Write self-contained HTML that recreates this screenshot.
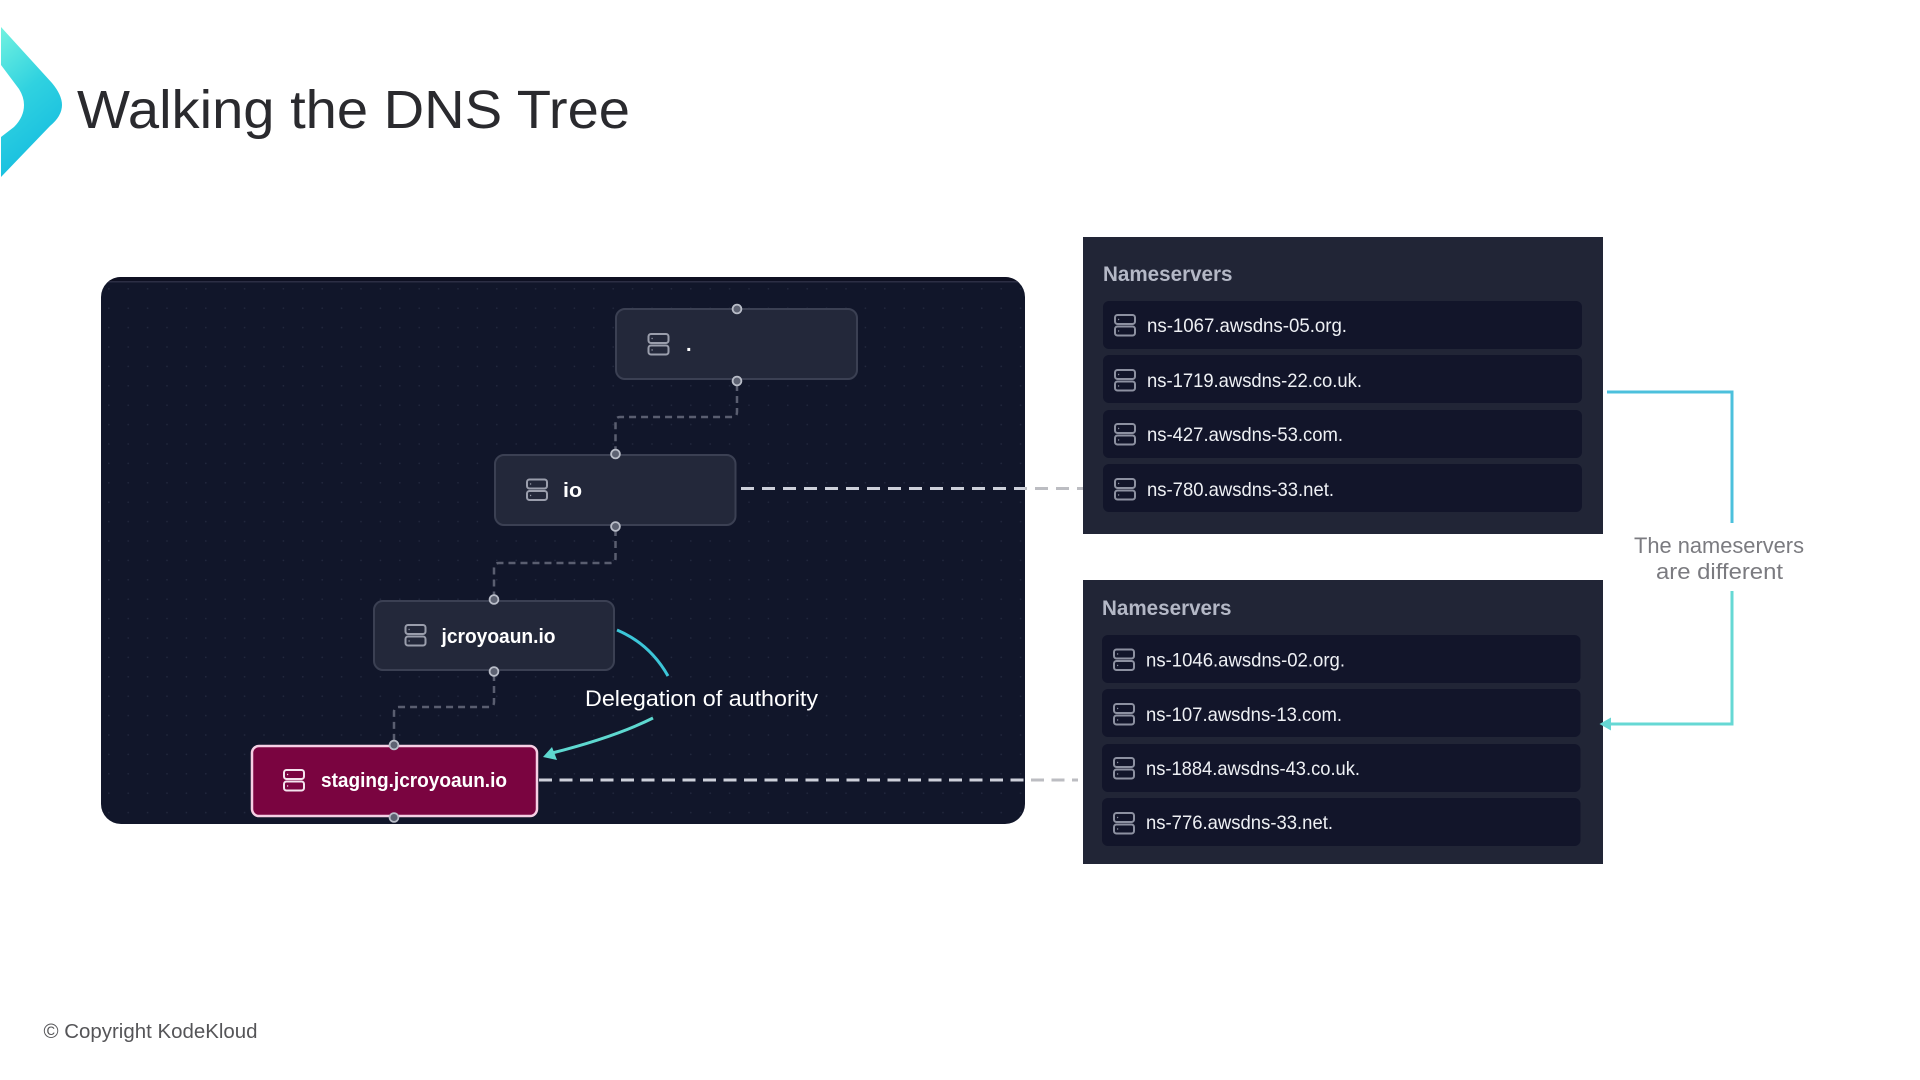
<!DOCTYPE html>
<html lang="en">
<head>
<meta charset="utf-8">
<title>Walking the DNS Tree</title>
<style>
html,body{margin:0;padding:0;background:#fff;width:1920px;height:1080px;overflow:hidden}
svg{display:block}
text{font-family:"Liberation Sans",sans-serif}
.ns{font-size:19.5px;fill:#eef0f4}
.hdr{font-size:21px;font-weight:700;fill:#b4b8c6}
.nl{font-size:20px;font-weight:700;fill:#fff}
.gr{font-size:22px;fill:#7b7b80}
</style>
</head>
<body>
<svg width="1920" height="1080" viewBox="0 0 1920 1080" xmlns="http://www.w3.org/2000/svg">
<defs>
<linearGradient id="chev" x1="0" y1="0" x2="0.35" y2="1">
<stop offset="0" stop-color="#72f2e0"/><stop offset="0.5" stop-color="#30d2e0"/><stop offset="1" stop-color="#16bde0"/>
</linearGradient>
<pattern id="dots" x="108" y="288" width="19.4" height="19.4" patternUnits="userSpaceOnUse">
<circle cx="0.8" cy="0.8" r="0.8" fill="#242a40"/>
</pattern>
<clipPath id="panelclip"><rect x="101" y="277" width="924" height="547" rx="20"/></clipPath>
<g id="ic" fill="none" stroke="currentColor" stroke-width="2">
<rect x="1" y="1" width="20" height="9" rx="2.5"/>
<rect x="1" y="12.5" width="20" height="9" rx="2.5"/>
<circle cx="4.6" cy="5.5" r="0.7" fill="currentColor" stroke="none"/>
<circle cx="4.6" cy="17" r="0.7" fill="currentColor" stroke="none"/>
</g>
</defs>

<!-- chevron -->
<path d="M1 27 L52 83 Q62 95 62 105 Q62 116 50 126 L1 177 L1 137 L14 127 Q24 117 24 105 Q24 97 19 89 L1 65 Z" fill="url(#chev)"/>

<!-- title -->
<text x="77" y="128" font-size="54" fill="#2a2a2e" textLength="553" lengthAdjust="spacingAndGlyphs">Walking the DNS Tree</text>

<!-- main panel -->
<rect x="101" y="277" width="924" height="547" rx="20" fill="#11162a"/>
<g clip-path="url(#panelclip)">
<rect x="101" y="277" width="924" height="4" fill="#0e1022"/>
<rect x="101" y="281" width="924" height="1.5" fill="#2c2e44"/>
<rect x="101" y="283" width="924" height="541" fill="url(#dots)"/>
</g>

<!-- dashed tree connectors -->
<g fill="none" stroke="#5a5e70" stroke-width="2.5" stroke-dasharray="7 5">
<path d="M737 384 V412 Q737 417 732 417 H620 Q615.5 417 615.5 422 V454"/>
<path d="M615.5 529 V558 Q615.5 563 610 563 H499 Q494 563 494 568 V599"/>
<path d="M494 674 V702 Q494 707 489 707 H399 Q394 707 394 712 V745"/>
</g>

<!-- nodes -->
<g fill="#23283a" stroke="#3b4053" stroke-width="2">
<rect x="616" y="309" width="241" height="70" rx="9"/>
<rect x="495" y="455" width="240.5" height="70" rx="9"/>
<rect x="374" y="601" width="240" height="69" rx="9"/>
</g>
<rect x="252" y="746" width="285" height="70" rx="7" fill="#7a0440" stroke="#f6cfe4" stroke-width="2.5"/>

<!-- node icons -->
<use href="#ic" x="647.5" y="333" color="#9a9eac"/>
<use href="#ic" x="526" y="478.5" color="#9a9eac"/>
<use href="#ic" x="404.5" y="624" color="#9a9eac"/>
<use href="#ic" x="283" y="769" color="#f4e4ee"/>

<!-- node labels -->
<text x="686" y="351" class="nl">.</text>
<text x="563" y="497" class="nl" textLength="19" lengthAdjust="spacingAndGlyphs">io</text>
<text x="441.5" y="643" class="nl" textLength="114" lengthAdjust="spacingAndGlyphs">jcroyoaun.io</text>
<text x="321" y="787" class="nl" textLength="186" lengthAdjust="spacingAndGlyphs">staging.jcroyoaun.io</text>

<!-- handles -->
<g fill="#5d6272" stroke="#b9bdc8" stroke-width="1.8">
<circle cx="737" cy="309" r="4.4"/>
<circle cx="737" cy="381" r="4.4"/>
<circle cx="615.5" cy="454" r="4.4"/>
<circle cx="615.5" cy="526.5" r="4.4"/>
<circle cx="494" cy="599.5" r="4.4"/>
<circle cx="494" cy="671.5" r="4.4"/>
<circle cx="394" cy="745" r="4.4"/>
<circle cx="394" cy="817.5" r="4.4"/>
</g>

<!-- nameserver panels -->
<rect x="1083" y="237" width="520" height="297" fill="#212536"/>
<rect x="1083" y="580" width="520" height="284" fill="#212536"/>

<!-- white dashed -->
<g fill="none" stroke-width="3">
<path d="M741 488.5 H1083" stroke="#bcbdc2" stroke-dasharray="13 8"/>
<path d="M741 488.5 H1083" stroke="#cdd0da" stroke-dasharray="13 8" clip-path="url(#panelclip)"/>
<path d="M539 780 H1078" stroke="#bcbdc2" stroke-dasharray="13 7.5"/>
<path d="M539 780 H1078" stroke="#cdd0da" stroke-dasharray="13 7.5" clip-path="url(#panelclip)"/>
</g>

<!-- delegation -->
<path d="M617 630 Q650 644 668 676" fill="none" stroke="#3cc6d8" stroke-width="3"/>
<path d="M653 718 Q615 737 552 753" fill="none" stroke="#5ed8d0" stroke-width="3"/>
<path d="M543 757 L552 747 L557 760 Z" fill="#5ed8d0"/>
<text x="585" y="706" font-size="22" fill="#fff" textLength="233" lengthAdjust="spacingAndGlyphs">Delegation of authority</text>

<!-- panel 1 content -->
<text x="1103" y="281" class="hdr" textLength="129.5" lengthAdjust="spacingAndGlyphs">Nameservers</text>
<g fill="#12152a">
<rect x="1103" y="301" width="479" height="48" rx="6"/>
<rect x="1103" y="355" width="479" height="48" rx="6"/>
<rect x="1103" y="410" width="479" height="48" rx="6"/>
<rect x="1103" y="464" width="479" height="48" rx="6"/>
</g>
<g color="#8d91a1">
<use href="#ic" x="1114" y="314"/>
<use href="#ic" x="1114" y="369"/>
<use href="#ic" x="1114" y="423"/>
<use href="#ic" x="1114" y="478"/>
</g>
<text x="1147" y="332" class="ns" textLength="200" lengthAdjust="spacingAndGlyphs">ns-1067.awsdns-05.org.</text>
<text x="1147" y="387" class="ns" textLength="215" lengthAdjust="spacingAndGlyphs">ns-1719.awsdns-22.co.uk.</text>
<text x="1147" y="441" class="ns" textLength="196" lengthAdjust="spacingAndGlyphs">ns-427.awsdns-53.com.</text>
<text x="1147" y="496" class="ns" textLength="187" lengthAdjust="spacingAndGlyphs">ns-780.awsdns-33.net.</text>

<!-- panel 2 content -->
<text x="1102" y="615" class="hdr" textLength="129.5" lengthAdjust="spacingAndGlyphs">Nameservers</text>
<g fill="#12152a">
<rect x="1102" y="635" width="478.5" height="48" rx="6"/>
<rect x="1102" y="689" width="478.5" height="48" rx="6"/>
<rect x="1102" y="744" width="478.5" height="48" rx="6"/>
<rect x="1102" y="798" width="478.5" height="48" rx="6"/>
</g>
<g color="#8d91a1">
<use href="#ic" x="1113" y="648.5"/>
<use href="#ic" x="1113" y="703"/>
<use href="#ic" x="1113" y="757"/>
<use href="#ic" x="1113" y="812"/>
</g>
<text x="1146" y="666.5" class="ns" textLength="199" lengthAdjust="spacingAndGlyphs">ns-1046.awsdns-02.org.</text>
<text x="1146" y="721" class="ns" textLength="196" lengthAdjust="spacingAndGlyphs">ns-107.awsdns-13.com.</text>
<text x="1146" y="775" class="ns" textLength="214" lengthAdjust="spacingAndGlyphs">ns-1884.awsdns-43.co.uk.</text>
<text x="1146" y="829" class="ns" textLength="187" lengthAdjust="spacingAndGlyphs">ns-776.awsdns-33.net.</text>

<!-- bracket -->
<path d="M1607 392 H1732 V523" fill="none" stroke="#4cc0dc" stroke-width="3"/>
<path d="M1732 591 V724 H1610" fill="none" stroke="#66d8d4" stroke-width="3"/>
<path d="M1599.5 724 L1611 717.5 V730.5 Z" fill="#66d8d4"/>
<text x="1634" y="553" class="gr" textLength="170" lengthAdjust="spacingAndGlyphs">The nameservers</text>
<text x="1656" y="579" class="gr" textLength="127" lengthAdjust="spacingAndGlyphs">are different</text>

<!-- footer -->
<text x="43.5" y="1038" font-size="20" fill="#555558" textLength="214" lengthAdjust="spacingAndGlyphs">© Copyright KodeKloud</text>
</svg>
</body>
</html>
